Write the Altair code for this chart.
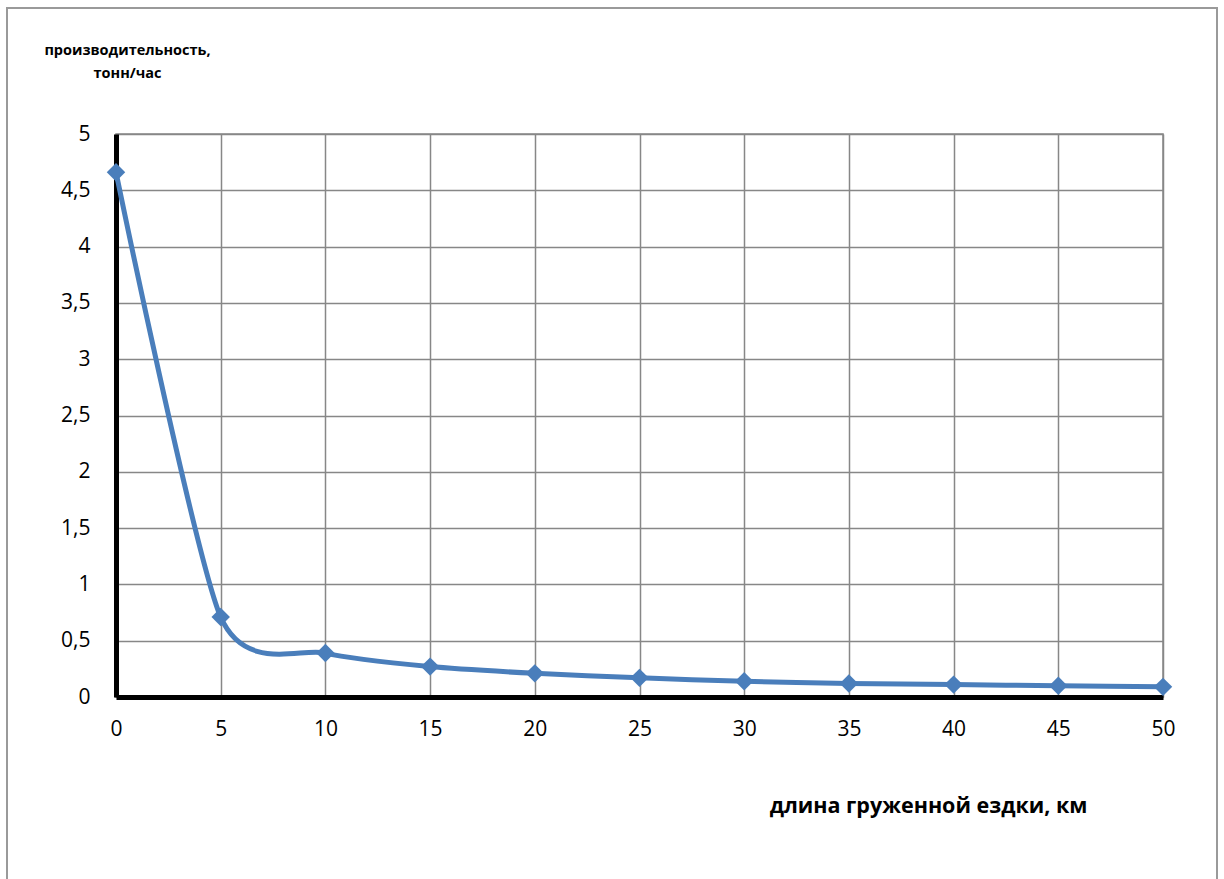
import altair as alt
import pandas as pd

# Length of loaded trip (km) and resulting productivity (t/h)
distance_km = [0, 5, 10, 15, 20, 25, 30, 35, 40, 45, 50]
productivity = [4.66, 0.71, 0.39, 0.27, 0.21, 0.17, 0.14, 0.12, 0.11, 0.10, 0.09]

x_ticks = list(range(0, 51, 5))
y_ticks = [0, 0.5, 1, 1.5, 2, 2.5, 3, 3.5, 4, 4.5, 5]

df = pd.DataFrame({"km": distance_km, "prod": productivity})

FONT = "Open Sans"
BLUE = "#4a7ebb"
GRID = "#878787"

x_enc = alt.X(
    "km:Q",
    scale=alt.Scale(domain=[0, 50], nice=False),
    axis=alt.Axis(
        values=x_ticks,
        title="длина груженной ездки, км",
        titleFont=FONT, titleFontSize=21.5, titleFontWeight="bold", titleColor="#000",
        titleX=812, titleY=109, titleAlign="center", titleBaseline="middle",
        labelFont=FONT, labelFontSize=21, labelColor="#000", labelPadding=21,
        labelFlush=False,
        domainColor="#000", domainWidth=5, ticks=False,
        grid=True, gridColor=GRID, gridWidth=1.5, zindex=0,
    ),
)
y_enc = alt.Y(
    "prod:Q",
    scale=alt.Scale(domain=[0, 5], nice=False),
    axis=alt.Axis(
        values=y_ticks,
        labelExpr="replace(format(datum.value, ''), '.', ',')",
        title=["производительность,", "тонн/час"],
        titleFont=FONT, titleFontSize=14.5, titleFontWeight="bold", titleColor="#000",
        titleAngle=0, titleX=11, titleY=-84, titleAlign="center", titleBaseline="middle",
        titleLineHeight=23,
        labelFont=FONT, labelFontSize=21, labelColor="#000", labelPadding=26,
        labelFlush=False,
        domainColor="#000", domainWidth=5, ticks=False,
        grid=True, gridColor=GRID, gridWidth=1.5, zindex=0,
    ),
)

base = alt.Chart(df)

# outer chart border
frame = base.mark_rect(fill=None, stroke="#9a9a9a", strokeWidth=2, clip=False).encode(
    x=alt.value(-109), x2=alt.value(1101), y=alt.value(-126), y2=alt.value(780)
)

line = base.mark_line(
    color=BLUE, strokeWidth=5, interpolate="cardinal", tension=0.3
).encode(x=x_enc, y=y_enc)
points = base.mark_point(
    shape="diamond", filled=True, size=340, color=BLUE, opacity=1
).encode(x="km:Q", y="prod:Q")

chart = (
    alt.layer(frame.transform_filter("datum.km == 0"), line, points)
    .properties(
        width=1047, height=563,
        autosize=alt.AutoSizeParams(type="none"),
        padding={"left": 116, "top": 134, "right": 61, "bottom": 182},
        background="white",
    )
    .configure_view(stroke=GRID, strokeWidth=1.5)
)

chart.save("out.html", embed_options={"renderer": "svg", "actions": False})
